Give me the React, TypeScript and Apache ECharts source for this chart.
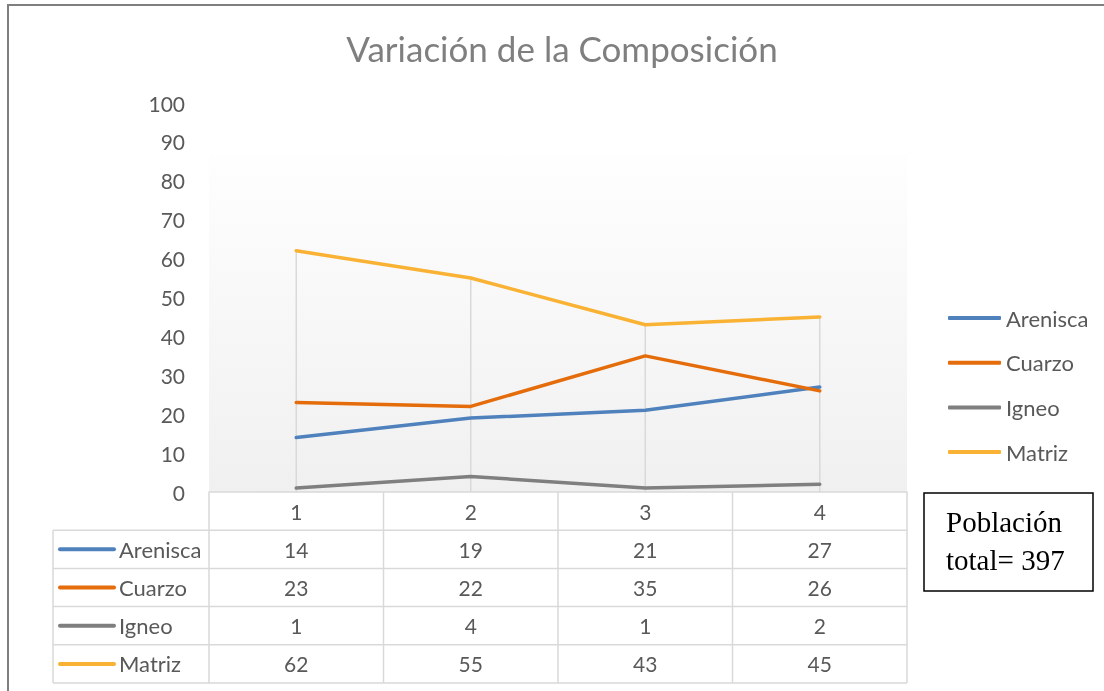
import React, { useEffect, useRef } from 'react';
import * as echarts from 'echarts';

const categories = ['1', '2', '3', '4'];
const seriesNames = ['Arenisca', 'Cuarzo', 'Igneo', 'Matriz'];
const arenisca = [14, 19, 21, 27];
const cuarzo = [23, 22, 35, 26];
const igneo = [1, 4, 1, 2];
const matriz = [62, 55, 43, 45];
const colors = ['#4F81BD', '#E46C0A', '#7F7F7F', '#F9B233'];
const titleText = 'Variación de la Composición';
const noteLines = ['Población', 'total= 397'];

const FONT = 'Lato, "Open Sans", sans-serif';
const SERIF = '"Liberation Serif", "Times New Roman", serif';
const TXT = '#595959';
const GRID_LINE = '#D9D9D9';

export default function App() {
  const ref = useRef<HTMLDivElement>(null);
  useEffect(() => {
    const el = ref.current!;
    const chart = echarts.init(el, null, { renderer: 'svg' });
    const allSeries = [arenisca, cuarzo, igneo, matriz];
    const dropTop = categories.map((_, i) => Math.max(...allSeries.map((s) => s[i])));
    chart.setOption({
      animation: false,
      textStyle: { fontFamily: FONT },
      title: {
        text: titleText,
        left: 557,
        textAlign: 'center',
        top: 25,
        textStyle: { fontFamily: FONT, fontSize: 35, fontWeight: 'normal', color: '#7F7F7F' },
      },
      grid: { left: 209, right: 197, top: 103, bottom: 199 },
      xAxis: {
        type: 'category',
        data: categories,
        boundaryGap: true,
        axisLine: { lineStyle: { color: GRID_LINE, width: 1.5 } },
        axisTick: { show: false },
        splitLine: { show: false },
        axisLabel: { color: TXT, fontSize: 21, margin: 19, verticalAlign: 'middle', fontFamily: FONT },
      },
      yAxis: {
        type: 'value',
        min: 0,
        max: 100,
        interval: 10,
        axisLine: { show: false },
        axisTick: { show: false },
        splitLine: { show: false },
        axisLabel: { color: TXT, fontSize: 21, margin: 24, fontFamily: FONT },
      },
      legend: {
        data: seriesNames,
        orient: 'vertical',
        left: 948,
        top: 307,
        padding: 0,
        icon: 'roundRect',
        itemWidth: 53,
        itemHeight: 4,
        itemGap: 22.7,
        textStyle: { color: TXT, fontSize: 22, lineHeight: 22, fontFamily: FONT },
      },
      series: [
        {
          type: 'custom',
          name: 'drop',
          silent: true,
          z: 1,
          renderItem: (_p: any, api: any) => {
            const top = api.coord([api.value(0), api.value(1)]);
            const bot = api.coord([api.value(0), 0]);
            return {
              type: 'line',
              shape: { x1: top[0], y1: top[1], x2: bot[0], y2: bot[1] },
              style: { stroke: GRID_LINE, lineWidth: 1.5 },
            };
          },
          data: dropTop.map((v, i) => [i, v]),
        },
        ...seriesNames.map((n, k) => ({
          type: 'line',
          name: n,
          data: allSeries[k],
          symbol: 'none',
          z: 3,
          itemStyle: { color: colors[k] },
          lineStyle: { color: colors[k], width: 3.5, cap: 'round' },
        })),
      ],
    });

    const cx = categories.map((_, i) => chart.convertToPixel({ xAxisIndex: 0 }, i) as number);
    const y0 = chart.convertToPixel({ yAxisIndex: 0 }, 0) as number;
    const band = cx.length > 1 ? cx[1] - cx[0] : 174;
    const xl = cx[0] - band / 2;
    const xr = cx[cx.length - 1] + band / 2;
    const keyLeft = 53;
    const rowH = 38.2;
    const nRows = seriesNames.length;
    const yb = y0 + rowH * (nRows + 1);

    const g: any[] = [];
    g.push({
      type: 'rect',
      z: -10,
      silent: true,
      shape: { x: xl, y: 155, width: xr - xl, height: y0 - 155 },
      style: {
        fill: new echarts.graphic.LinearGradient(0, 0, 0, 1, [
          { offset: 0, color: '#FEFEFE' },
          { offset: 1, color: '#F0F0F0' },
        ]),
      },
    });
    for (let r = 1; r <= nRows + 1; r++) {
      const y = y0 + rowH * r;
      g.push({ type: 'line', shape: { x1: keyLeft, y1: y, x2: xr, y2: y }, style: { stroke: GRID_LINE, lineWidth: 1.5 } });
    }
    g.push({ type: 'line', shape: { x1: keyLeft, y1: y0 + rowH, x2: keyLeft, y2: yb }, style: { stroke: GRID_LINE, lineWidth: 1.5 } });
    for (let k = 0; k <= categories.length; k++) {
      const x = xl + band * k;
      g.push({ type: 'line', shape: { x1: x, y1: y0, x2: x, y2: yb }, style: { stroke: GRID_LINE, lineWidth: 1.5 } });
    }
    seriesNames.forEach((n, r) => {
      const yc = y0 + rowH * (r + 1.5);
      g.push({ type: 'line', shape: { x1: keyLeft + 7, y1: yc, x2: keyLeft + 61, y2: yc }, style: { stroke: colors[r], lineWidth: 4, lineCap: 'round' } });
      g.push({ type: 'text', x: keyLeft + 66, y: yc, style: { text: n, fill: TXT, font: `22px ${FONT}`, verticalAlign: 'middle', align: 'left' } });
      allSeries[r].forEach((v, i) => {
        g.push({ type: 'text', x: cx[i], y: yc, style: { text: String(v), fill: TXT, font: `21px ${FONT}`, verticalAlign: 'middle', align: 'center' } });
      });
    });
    g.push({ type: 'rect', shape: { x: 924, y: 493, width: 169, height: 98 }, style: { fill: '#FFFFFF', stroke: '#000000', lineWidth: 1.5 } });
    noteLines.forEach((t, i) => {
      g.push({ type: 'text', x: 946, y: 522 + i * 38, style: { text: t, fill: '#000000', font: `29px ${SERIF}`, verticalAlign: 'middle', align: 'left' } });
    });
    g.push({ type: 'rect', silent: true, shape: { x: 8, y: 5, width: 1300, height: 900 }, style: { fill: 'none', stroke: '#7F7F7F', lineWidth: 2 } });

    chart.setOption({ graphic: g });
    return () => chart.dispose();
  }, []);
  return <div ref={ref} style={{ position: 'fixed', left: 0, top: 0, width: 1104, height: 691 }} />;
}
